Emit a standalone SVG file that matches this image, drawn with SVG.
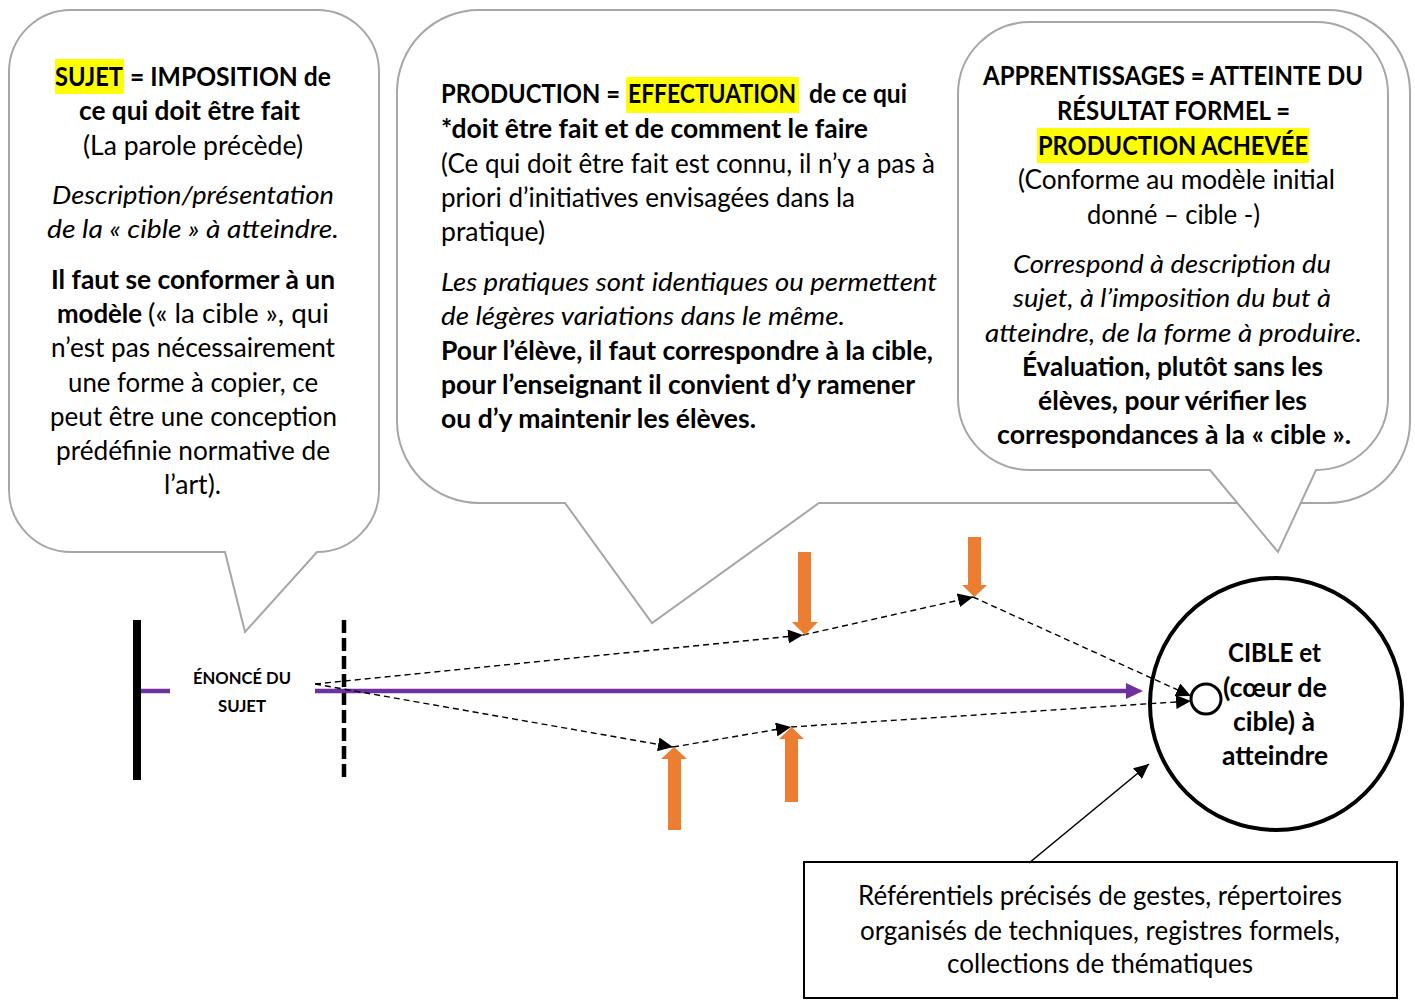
<svg xmlns="http://www.w3.org/2000/svg" width="1415" height="1001" viewBox="0 0 1415 1001">
<style>
.c{fill:#fff;stroke:#a6a6a6;stroke-width:2}
.t{font-family:Lato,"Open Sans","Liberation Sans",sans-serif;font-size:26px;fill:#000}
.b{font-weight:700}
.i{font-style:italic}
.hl{fill:#ffff00}
.dash{fill:none;stroke:#000;stroke-width:1.4;stroke-dasharray:6 4}
.or{fill:#ed7d31}
.pu{stroke:#7030a0;stroke-width:4.5;fill:none}
</style>
<defs>
<marker id="ah" markerUnits="userSpaceOnUse" markerWidth="16" markerHeight="14" refX="15" refY="7" orient="auto">
<path d="M0,0 L15,7 L0,14 Z" fill="#000"/>
</marker>
</defs>

<g id="callout-sujet">
<path class="c" d="M71,10 H317 A62 62 0 0 1 379 72 V490 A62 62 0 0 1 317 552 L245 632 L225 552 H71 A62 62 0 0 1 9 490 V72 A62 62 0 0 1 71 10 Z"/>
<rect class="hl" x="55" y="59" width="69" height="35"/>
<text class="t b" x="55" y="86" textLength="68" lengthAdjust="spacingAndGlyphs">SUJET</text>
<text class="t b" x="130" y="86" textLength="201" lengthAdjust="spacingAndGlyphs">= IMPOSITION de</text>
<text class="t b" x="79" y="120" textLength="221" lengthAdjust="spacingAndGlyphs">ce qui doit être fait</text>
<text class="t" x="83" y="155" textLength="220" lengthAdjust="spacingAndGlyphs">(La parole précède)</text>
<text class="t i" x="52" y="204" textLength="282" lengthAdjust="spacingAndGlyphs">Description/présentation</text>
<text class="t i" x="47" y="238" textLength="292" lengthAdjust="spacingAndGlyphs">de la « cible » à atteindre.</text>
<text class="t b" x="51" y="289" textLength="284" lengthAdjust="spacingAndGlyphs">Il faut se conformer à un</text>
<text class="t b" x="57" y="323" textLength="85" lengthAdjust="spacingAndGlyphs">modèle</text>
<text class="t" x="148" y="323" textLength="181" lengthAdjust="spacingAndGlyphs">(« la cible », qui</text>
<text class="t" x="51" y="357" textLength="284" lengthAdjust="spacingAndGlyphs">n’est pas nécessairement</text>
<text class="t" x="68" y="392" textLength="250" lengthAdjust="spacingAndGlyphs">une forme à copier, ce</text>
<text class="t" x="50" y="426" textLength="287" lengthAdjust="spacingAndGlyphs">peut être une conception</text>
<text class="t" x="56" y="460" textLength="274" lengthAdjust="spacingAndGlyphs">prédéfinie normative de</text>
<text class="t" x="164" y="494" textLength="57" lengthAdjust="spacingAndGlyphs">l’art).</text>
</g>

<g id="callout-production">
<path class="c" d="M479,10 H1328 A82 82 0 0 1 1410 92 V421 A82 82 0 0 1 1328 503 H819 L652 623 L565 503 H479 A82 82 0 0 1 397 421 V92 A82 82 0 0 1 479 10 Z"/>
<rect class="hl" x="626" y="77" width="173" height="36"/>
<text class="t b" x="441" y="103" textLength="179" lengthAdjust="spacingAndGlyphs">PRODUCTION =</text>
<text class="t b" x="628" y="103" textLength="168" lengthAdjust="spacingAndGlyphs">EFFECTUATION</text>
<text class="t b" x="809" y="103" textLength="98" lengthAdjust="spacingAndGlyphs">de ce qui</text>
<text class="t b" x="441" y="138" textLength="427" lengthAdjust="spacingAndGlyphs">*doit être fait et de comment le faire</text>
<text class="t" x="441" y="173" textLength="494" lengthAdjust="spacingAndGlyphs">(Ce qui doit être fait est connu, il n’y a pas à</text>
<text class="t" x="441" y="207" textLength="414" lengthAdjust="spacingAndGlyphs">priori d’initiatives envisagées dans la</text>
<text class="t" x="441" y="241" textLength="104" lengthAdjust="spacingAndGlyphs">pratique)</text>
<text class="t i" x="441" y="291" textLength="496" lengthAdjust="spacingAndGlyphs">Les pratiques sont identiques ou permettent</text>
<text class="t i" x="441" y="325" textLength="404" lengthAdjust="spacingAndGlyphs">de légères variations dans le même.</text>
<text class="t b" x="441" y="360" textLength="492" lengthAdjust="spacingAndGlyphs">Pour l’élève, il faut correspondre à la cible,</text>
<text class="t b" x="441" y="394" textLength="474" lengthAdjust="spacingAndGlyphs">pour l’enseignant il convient d’y ramener</text>
<text class="t b" x="441" y="428" textLength="315" lengthAdjust="spacingAndGlyphs">ou d’y maintenir les élèves.</text>
</g>

<g id="callout-apprentissages">
<path class="c" d="M1030,22 H1316 A72 72 0 0 1 1388 94 V398 A72 72 0 0 1 1316 470 L1278 552 L1210 470 H1030 A72 72 0 0 1 958 398 V94 A72 72 0 0 1 1030 22 Z"/>
<rect class="hl" x="1037" y="128" width="272" height="35"/>
<text class="t b" x="983" y="85" textLength="380" lengthAdjust="spacingAndGlyphs">APPRENTISSAGES = ATTEINTE DU</text>
<text class="t b" x="1057" y="120" textLength="233" lengthAdjust="spacingAndGlyphs">RÉSULTAT FORMEL =</text>
<text class="t b" x="1038" y="155" textLength="270" lengthAdjust="spacingAndGlyphs">PRODUCTION ACHEVÉE</text>
<text class="t" x="1018" y="189" textLength="317" lengthAdjust="spacingAndGlyphs">(Conforme au modèle initial</text>
<text class="t" x="1087" y="224" textLength="173" lengthAdjust="spacingAndGlyphs">donné – cible -)</text>
<text class="t i" x="1013" y="273" textLength="318" lengthAdjust="spacingAndGlyphs">Correspond à description du</text>
<text class="t i" x="1013" y="307" textLength="318" lengthAdjust="spacingAndGlyphs">sujet, à l’imposition du but à</text>
<text class="t i" x="985" y="342" textLength="377" lengthAdjust="spacingAndGlyphs">atteindre, de la forme à produire.</text>
<text class="t b" x="1022" y="376" textLength="301" lengthAdjust="spacingAndGlyphs">Évaluation, plutôt sans les</text>
<text class="t b" x="1038" y="410" textLength="269" lengthAdjust="spacingAndGlyphs">élèves, pour vérifier les</text>
<text class="t b" x="997" y="444" textLength="354" lengthAdjust="spacingAndGlyphs">correspondances à la « cible ».</text>
</g>

<g id="depart">
<rect x="133" y="620" width="8" height="160" fill="#000"/>
<line x1="344" y1="620" x2="344" y2="780" stroke="#000" stroke-width="4.5" stroke-dasharray="13 5"/>
<text class="t b" x="193" y="684" style="font-size:17px" textLength="98" lengthAdjust="spacingAndGlyphs">ÉNONCÉ DU</text>
<text class="t b" x="218" y="712" style="font-size:17px" textLength="48" lengthAdjust="spacingAndGlyphs">SUJET</text>
</g>

<g id="cible">
<circle cx="1276" cy="704" r="126" fill="#fff" stroke="#000" stroke-width="4"/>
<circle cx="1206" cy="699" r="15" fill="none" stroke="#000" stroke-width="3"/>
<text class="t b" x="1228" y="662" textLength="93" lengthAdjust="spacingAndGlyphs">CIBLE et</text>
<text class="t b" x="1223" y="697" textLength="104" lengthAdjust="spacingAndGlyphs">(cœur de</text>
<text class="t b" x="1233" y="731" textLength="82" lengthAdjust="spacingAndGlyphs">cible) à</text>
<text class="t b" x="1222" y="765" textLength="106" lengthAdjust="spacingAndGlyphs">atteindre</text>
</g>

<g id="referentiels">
<rect x="804" y="862" width="593" height="136" fill="#fff" stroke="#000" stroke-width="2"/>
<text class="t" x="858" y="905" textLength="484" lengthAdjust="spacingAndGlyphs">Référentiels précisés de gestes, répertoires</text>
<text class="t" x="860" y="940" textLength="480" lengthAdjust="spacingAndGlyphs">organisés de techniques, registres formels,</text>
<text class="t" x="947" y="973" textLength="306" lengthAdjust="spacingAndGlyphs">collections de thématiques</text>
</g>

<g id="connecteurs">
<line class="pu" x1="141" y1="691" x2="170" y2="691"/>
<line class="pu" x1="315" y1="691" x2="1128" y2="691"/>
<polygon points="1126,683 1143,691 1126,699" fill="#7030a0"/>
<path class="dash" d="M315,684 L803,635" marker-end="url(#ah)"/>
<path class="dash" d="M803,635 L973,597" marker-end="url(#ah)"/>
<path class="dash" d="M973,597 L1191,696" marker-end="url(#ah)"/>
<path class="dash" d="M315,684 L673,747" marker-end="url(#ah)"/>
<path class="dash" d="M673,747 L791,727" marker-end="url(#ah)"/>
<path class="dash" d="M791,727 L1191,701" marker-end="url(#ah)"/>
<polygon class="or" points="798,552 811,552 811,622 818,622 805,635 792,622 798,622"/>
<polygon class="or" points="968,537 981,537 981,585 987,585 974.5,597 962,585 968,585"/>
<polygon class="or" points="668,830 681,830 681,759 687,759 674,747 661,759 668,759"/>
<polygon class="or" points="785,802 798,802 798,739 804,739 791.5,727 779,739 785,739"/>
<line x1="1029" y1="863" x2="1149" y2="764" stroke="#000" stroke-width="1.6" marker-end="url(#ah)"/>
</g>
</svg>
